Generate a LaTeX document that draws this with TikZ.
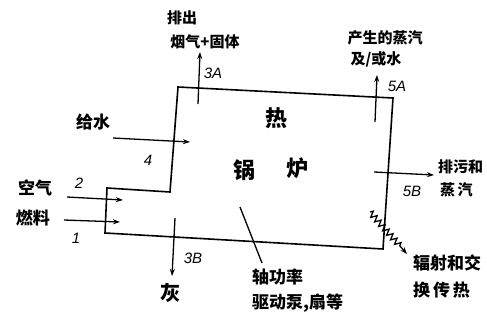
\documentclass[tikz,border=0pt]{standalone}
\usepackage{fontspec}
\newfontfamily\cjk{Noto Sans CJK SC}
\setsansfont{Liberation Sans}
\usetikzlibrary{arrows.meta,decorations.pathmorphing}
\begin{document}
\begin{tikzpicture}[x=1pt,y=-1pt,
  wall/.style={line width=1.6pt,line join=miter},
  flow/.style={line width=1.3pt,-{Stealth[length=7pt,width=5pt]}},
  lbl/.style={inner sep=0pt,font=\cjk\bfseries\fontsize{17}{19}\selectfont},
  small/.style={inner sep=0pt,font=\cjk\bfseries\fontsize{15}{17}\selectfont},
  big/.style={inner sep=0pt,font=\cjk\bfseries\fontsize{22}{24}\selectfont},
  num/.style={inner sep=0pt,font=\sffamily\itshape\fontsize{15}{17}\selectfont}]
\useasboundingbox (0,0) rectangle (487,322);
% boiler outline
\coordinate (tl) at (178,87);
\coordinate (tr) at (393,98);
\coordinate (br) at (383,249);
\coordinate (bl) at (105,233);
\coordinate (sl) at (107,188);
\coordinate (sr) at (170,192);
\draw[wall] (tl) -- (tr) -- (br) -- (bl) -- (sl) -- (sr) -- cycle;
% flow endpoints
\coordinate (w0) at (113,138); \coordinate (w1) at (190,142);
\coordinate (a0) at (67,197);  \coordinate (a1) at (123,200);
\coordinate (f0) at (64,220);  \coordinate (f1) at (120,222);
\coordinate (g0) at (198,104); \coordinate (g1) at (200,52);
\coordinate (s0) at (375,122); \coordinate (s1) at (377,75);
\coordinate (b0) at (374,172); \coordinate (b1) at (434,175);
\coordinate (h0) at (175,218); \coordinate (h1) at (172,276);
\coordinate (r0) at (370,212); \coordinate (r1) at (407,254);
\coordinate (p0) at (240,207); \coordinate (p1) at (262,263);
\draw[flow] (w0) -- (w1);
\draw[flow] (a0) -- (a1);
\draw[flow] (f0) -- (f1);
\draw[flow] (g0) -- (g1);
\draw[flow] (s0) -- (s1);
\draw[flow] (b0) -- (b1);
\draw[flow] (h0) -- (h1);
\draw[line width=1.3pt] (p0) -- (p1);
\draw[line width=1.3pt,-{Stealth[length=7pt,width=5pt]},
  decorate,decoration={zigzag,segment length=6pt,amplitude=3pt,post length=8pt}] (r0) -- (r1);
% labels
\node[small] (t1) at (182,18) {排出};
\node[small] (t2) at (205,42) {烟气+固体};
\node[num] (n3a) at (213,73) {3A};
\node[small] (t3) at (385,38) {产生的蒸汽};
\node[small] (t4) at (376,59) {及/或水};
\node[num] (n5a) at (397,86) {5A};
\node[lbl] (fw) at (93,122) {给水};
\node[num] (n4) at (148,160) {4};
\node[big] (heat) at (276,118) {热};
\node[big] (guo) at (244,170) {锅};
\node[big] (lu) at (297,168) {炉};
\node[lbl] (air) at (35,188) {空气};
\node[lbl] (fuel) at (33,218) {燃料};
\node[num] (n2) at (79,183) {2};
\node[num] (n1) at (76,238) {1};
\node[num] (n5b) at (412,191) {5B};
\node[small,anchor=west] (bd1) at (438,167) {排污和};
\node[small,anchor=west] (bd2) at (440,190) {蒸\,汽};
\node[num] (n3b) at (193,258) {3B};
\node[lbl,font=\cjk\bfseries\fontsize{20}{22}\selectfont] (ash) at (170,293) {灰};
\node[lbl,anchor=west] (sh1) at (252,277) {轴功率};
\node[lbl,anchor=west] (sh2) at (252,303) {驱动泵,扇等};
\node[lbl,anchor=west] (rd1) at (413,263) {辐射和交};
\node[lbl,anchor=west] (rd2) at (413,290) {换\,传\,热};
\end{tikzpicture}
\end{document}
